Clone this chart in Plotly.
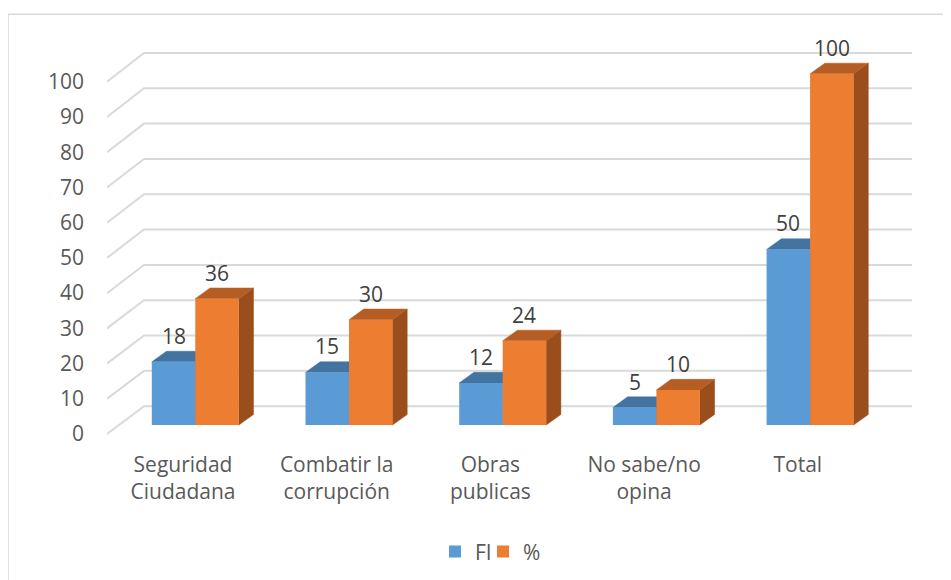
import plotly.graph_objects as go

# ---------------- data ----------------
categories = ["Seguridad<br>Ciudadana", "Combatir la<br>corrupción", "Obras<br>publicas",
              "No sabe/no<br>opina", "Total"]
fi_values = [18, 15, 12, 5, 50]
pct_values = [36, 30, 24, 10, 100]
y_ticks = [0, 10, 20, 30, 40, 50, 60, 70, 80, 90, 100]

# ---------------- styling / geometry ----------------
BLUE, BLUE_TOP, BLUE_SIDE = "#5B9BD5", "#4373A0", "#3F6A93"
ORANGE, ORANGE_TOP, ORANGE_SIDE = "#ED7D31", "#B65D23", "#9A4E1C"
GRID = "#D9D9D9"
TXT = "#595959"
LBL = "#404040"
FONT = "Open Sans"
FS = 21

OX, OY = 8, 5.5                          # page body offset compensation
W, H = 951 - OX, 580 - 5
L, R, T, B = 107 - OX, 912 - OX, 40 - OY, 440 - OY   # plot area (figure px)
XPX0, XPX_STEP = 195.3 - OX, 153.7       # front-face category centre mapping
YPX0, YPX_STEP = 424.0 - OY, 3.53        # front-face value mapping
BACK_Y0, FLOOR_Y0 = 405.0 - OY, 433.0 - OY
BACK_X = 144 - OX
LABEL_X0 = 183.0 - OX
FRAME_X, FRAME_Y = 8 - OX, 11 - OY

BAR_W = 0.283                            # bar width (category units)
DDX = 14.7 / XPX_STEP                    # 3D depth offset of the bars
DDY = 10.7 / YPX_STEP

# back wall / front floor projections expressed in front-face units
BACK_OFF, BACK_SCALE = (YPX0 - BACK_Y0) / YPX_STEP, 3.55 / YPX_STEP
FLOOR_OFF, FLOOR_SCALE = (YPX0 - FLOOR_Y0) / YPX_STEP, 3.54 / YPX_STEP
X_LEFT = (L - XPX0) / XPX_STEP
X_BACK = (BACK_X - XPX0) / XPX_STEP
X_RIGHT = (R - XPX0) / XPX_STEP

xr = [X_LEFT, X_RIGHT]
yr = [(YPX0 - B) / YPX_STEP, (YPX0 - T) / YPX_STEP]
# label axes
xr2 = [(L - LABEL_X0) / XPX_STEP, (R - LABEL_X0) / XPX_STEP]
yr2 = [(FLOOR_Y0 - B) / 3.54, (FLOOR_Y0 - T) / 3.54]

xs = list(range(len(categories)))

fig = go.Figure()
fig.add_trace(go.Bar(x=xs, y=fi_values, name="FI", marker=dict(color=BLUE, line=dict(width=0)),
                     width=BAR_W, offset=-BAR_W, hoverinfo="skip", legend="legend"))
fig.add_trace(go.Bar(x=xs, y=pct_values, name="%", marker=dict(color=ORANGE, line=dict(width=0)),
                     width=BAR_W, offset=0, hoverinfo="skip", legend="legend2"))
# helper trace so the label axes render
fig.add_trace(go.Scatter(x=[0], y=[0], xaxis="x2", yaxis="y2", mode="markers",
                         marker=dict(opacity=0), showlegend=False, hoverinfo="skip"))

shapes = []
# back-wall gridlines with perspective diagonals to the front floor edge
for v in y_ticks:
    yf = FLOOR_OFF + FLOOR_SCALE * v
    yb = BACK_OFF + BACK_SCALE * v
    shapes.append(dict(type="path", xref="x", yref="y", layer="below",
                       path=f"M{X_LEFT},{yf} L{X_BACK},{yb} L{X_RIGHT},{yb}",
                       line=dict(color=GRID, width=2)))


def poly(pts, color):
    p = "M" + " L".join(f"{a},{b}" for a, b in pts) + " Z"
    return dict(type="path", xref="x", yref="y", layer="below", path=p,
                fillcolor=color, line=dict(color=color, width=0.5))


for i, (fv, pv) in enumerate(zip(fi_values, pct_values)):
    # blue bar: side and top
    x0, x1 = i - BAR_W, i
    shapes.append(poly([(x1, 0), (x1, fv), (x1 + DDX, fv + DDY), (x1 + DDX, DDY)], BLUE_SIDE))
    shapes.append(poly([(x0, fv), (x1, fv), (x1 + DDX, fv + DDY), (x0 + DDX, fv + DDY)], BLUE_TOP))
    # orange bar: side and top
    x0, x1 = i, i + BAR_W
    shapes.append(poly([(x1, 0), (x1, pv), (x1 + DDX, pv + DDY), (x1 + DDX, DDY)], ORANGE_SIDE))
    shapes.append(poly([(x0, pv), (x1, pv), (x1 + DDX, pv + DDY), (x0 + DDX, pv + DDY)], ORANGE_TOP))

# outer chart frame
shapes.append(dict(type="rect", xref="paper", yref="paper",
                   x0=(FRAME_X - L) / (R - L), x1=(970 - L) / (R - L),
                   y0=(B - 620) / (B - T), y1=(B - FRAME_Y) / (B - T),
                   line=dict(color=GRID, width=1.5), fillcolor="rgba(0,0,0,0)"))

annotations = []
for i, (fv, pv) in enumerate(zip(fi_values, pct_values)):
    annotations.append(dict(x=i - BAR_W / 2, y=fv, xref="x", yref="y", text=str(fv),
                            showarrow=False, yshift=26, yanchor="middle",
                            font=dict(family=FONT, size=FS, color=LBL)))
    annotations.append(dict(x=i + BAR_W / 2, y=pv, xref="x", yref="y", text=str(pv),
                            showarrow=False, yshift=26, yanchor="middle",
                            font=dict(family=FONT, size=FS, color=LBL)))

leg_common = dict(orientation="h", xanchor="left", yanchor="middle",
                  y=(B - (550 - OY)) / (B - T), bgcolor="rgba(0,0,0,0)",
                  font=dict(family=FONT, size=FS, color=TXT), itemwidth=30)

fig.update_layout(
    width=W, height=H,
    margin=dict(l=L, r=W - R, t=T, b=H - B, pad=0),
    paper_bgcolor="white", plot_bgcolor="white",
    barmode="overlay",
    font=dict(family=FONT, size=FS, color=TXT),
    xaxis=dict(range=xr, showgrid=False, zeroline=False, showline=False,
               showticklabels=False, fixedrange=True),
    yaxis=dict(range=yr, showgrid=False, zeroline=False, showline=False,
               showticklabels=False, fixedrange=True),
    xaxis2=dict(range=xr2, overlaying="x", side="bottom", anchor="y2",
                tickmode="array", tickvals=xs, ticktext=categories,
                showgrid=False, zeroline=False, showline=False, ticks="",
                ticklabelstandoff=9,
                tickfont=dict(family=FONT, size=FS, color=TXT)),
    yaxis2=dict(range=yr2, overlaying="y", side="left", anchor="x2",
                tickmode="array", tickvals=y_ticks,
                showgrid=False, zeroline=False, showline=False, ticks="",
                ticklabelstandoff=22,
                tickfont=dict(family=FONT, size=FS, color=TXT)),
    shapes=shapes,
    annotations=annotations,
    showlegend=True,
    legend=dict(x=(435 - OX - L) / (R - L), **leg_common),
    legend2=dict(x=(483 - OX - L) / (R - L), **leg_common),
)

fig.write_html("out.html")
